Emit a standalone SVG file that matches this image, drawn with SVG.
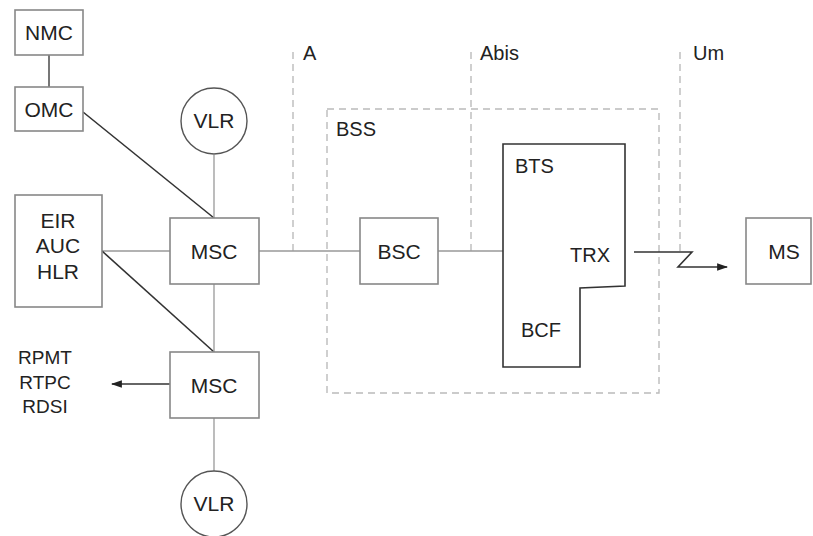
<svg xmlns="http://www.w3.org/2000/svg" width="813" height="536" viewBox="0 0 813 536">
<defs>
<style>
.box{fill:#fff;stroke:#888;stroke-width:1.6}
.circ{fill:#fff;stroke:#555;stroke-width:1.4}
.t{font-family:"Liberation Sans",Arial,sans-serif;font-size:21px;fill:#222;text-anchor:middle}
.tl{font-family:"Liberation Sans",Arial,sans-serif;font-size:20px;fill:#222}
.thin{stroke:#999;stroke-width:1.3;fill:none}
.dark{stroke:#333;stroke-width:1.6;fill:none}
.dash{stroke:#bbb;stroke-width:1.4;stroke-dasharray:7,5;fill:none}
</style>
<marker id="arr" viewBox="0 0 10 10" refX="9" refY="5" markerWidth="11" markerHeight="11" markerUnits="userSpaceOnUse" orient="auto">
<path d="M0,1.5 L10,5 L0,8.5 z" fill="#222"/>
</marker>
</defs>
<rect width="813" height="536" fill="#fff"/>
<g id="bss">
<rect x="327" y="109" width="332" height="284" class="dash"/>
<text x="336" y="136" class="tl">BSS</text>
</g>
<g id="interfaces">
<line x1="293" y1="52" x2="293" y2="251" class="dash"/>
<text x="303" y="60" class="tl">A</text>
<line x1="471" y1="52" x2="471" y2="251" class="dash"/>
<text x="480" y="60" class="tl">Abis</text>
<line x1="680" y1="52" x2="680" y2="252" class="dash"/>
<text x="693" y="60" class="tl">Um</text>
</g>
<g id="connectors">
<line x1="49" y1="55" x2="49" y2="87" class="dark" style="stroke:#555"/>
<line x1="83" y1="112" x2="214" y2="218" class="dark"/>
<line x1="214" y1="155" x2="214" y2="218" class="thin"/>
<line x1="102" y1="251" x2="170" y2="251" class="thin"/>
<line x1="102" y1="251" x2="214" y2="352" class="dark"/>
<line x1="214" y1="284" x2="214" y2="352" class="thin"/>
<line x1="259" y1="251" x2="360" y2="251" class="thin"/>
<line x1="438" y1="251" x2="503" y2="251" class="thin"/>
<line x1="170" y1="384" x2="112" y2="384" class="dark" style="stroke-width:1.3" marker-end="url(#arr)"/>
<line x1="214" y1="418" x2="214" y2="471" class="thin"/>
<polyline points="634,252 692,252 678,267 727,267" class="dark" marker-end="url(#arr)"/>
</g>
<g id="nmc">
<rect x="15" y="10" width="68" height="45" class="box"/>
<text x="49" y="40" class="t">NMC</text>
</g>
<g id="omc">
<rect x="15" y="87" width="68" height="44" class="box"/>
<text x="49" y="117" class="t">OMC</text>
</g>
<g id="vlr1">
<circle cx="214" cy="121" r="33" class="circ"/>
<text x="214" y="128" class="t">VLR</text>
</g>
<g id="eir">
<rect x="15" y="195" width="87" height="112" class="box"/>
<text x="58" y="228" class="t">EIR</text>
<text x="58" y="253" class="t">AUC</text>
<text x="58" y="279" class="t">HLR</text>
</g>
<g id="msc1">
<rect x="170" y="218" width="89" height="66" class="box"/>
<text x="214" y="259" class="t">MSC</text>
</g>
<g id="msc2">
<rect x="170" y="352" width="89" height="66" class="box"/>
<text x="214" y="393" class="t">MSC</text>
</g>
<g id="pstn">
<text x="45" y="364" class="t" style="font-size:19px">RPMT</text>
<text x="45" y="389" class="t" style="font-size:19px">RTPC</text>
<text x="45" y="413" class="t" style="font-size:19px">RDSI</text>
</g>
<g id="vlr2">
<circle cx="214" cy="504" r="33" class="circ"/>
<text x="214" y="511" class="t">VLR</text>
</g>
<g id="bsc">
<rect x="360" y="218" width="78" height="66" class="box"/>
<text x="399" y="259" class="t">BSC</text>
</g>
<g id="bts">
<polygon points="503,144 625,144 625,286 580,288 580,367 503,367" fill="#fff" stroke="#333" stroke-width="1.6"/>
<text x="515" y="173" class="tl">BTS</text>
<text x="570" y="262" class="tl">TRX</text>
<text x="521" y="337" class="tl">BCF</text>
</g>
<g id="ms">
<rect x="746" y="218" width="65" height="66" class="box"/>
<text x="784" y="259" class="t">MS</text>
</g>
</svg>
